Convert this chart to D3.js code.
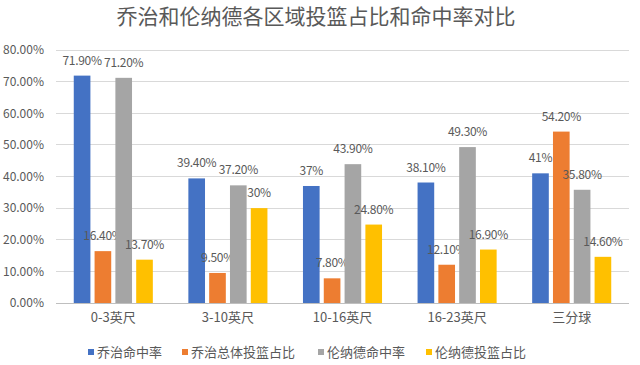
<!DOCTYPE html>
<html><head><meta charset="utf-8">
<script src="https://cdn.jsdelivr.net/npm/d3@7"></script>
<style>body{margin:0;background:#fff}svg{display:block}text{font-family:"Noto Sans CJK SC","Noto Sans",sans-serif}</style>
</head><body><svg id="c" width="640" height="365"></svg>
<script>
const title = "乔治和伦纳德各区域投篮占比和命中率对比";
const categories = ["0-3英尺","3-10英尺","10-16英尺","16-23英尺","三分球"];
const seriesNames = ["乔治命中率","乔治总体投篮占比","伦纳德命中率","伦纳德投篮占比"];
const georgeFG = [71.9, 39.4, 37, 38.1, 41];
const georgeShare = [16.4, 9.5, 7.8, 12.1, 54.2];
const leonardFG = [71.2, 37.2, 43.9, 49.3, 35.8];
const leonardShare = [13.7, 30, 24.8, 16.9, 14.6];
const yTicks = [0,10,20,30,40,50,60,70,80];
const colors = ["#4472C4","#ED7D31","#A5A5A5","#FFC000"];

const series = [georgeFG, georgeShare, leonardFG, leonardShare];
const svg = d3.select("#c");
const W = 640, H = 365;
const m = {left:56, right:11, top:50, bottom:62};
const x0 = d3.scaleBand().domain(categories).range([m.left, W-m.right]).paddingInner(0.31).paddingOuter(0.155);
const x1 = d3.scaleBand().domain(seriesNames).range([0, x0.bandwidth()]).paddingInner(0.2);
const y = d3.scaleLinear().domain([0,80]).range([H-m.bottom, m.top]);

svg.append("text").attr("x", 316).attr("y", 24).attr("text-anchor","middle")
  .attr("font-size", 21).attr("fill","#595959").text(title);

// gridlines
svg.append("g").selectAll("line").data(yTicks).join("line")
  .attr("x1", m.left).attr("x2", W-m.right)
  .attr("y1", d=>y(d)).attr("y2", d=>y(d))
  .attr("stroke", d=> d===0 ? "#bfbfbf" : "#d9d9d9").attr("stroke-width",1)
  .attr("shape-rendering","crispEdges");

// y axis labels
const yAxis = d3.axisLeft(y).tickValues(yTicks).tickFormat(d=>d.toFixed(2)+"%").tickSize(0).tickPadding(10);
const ya = svg.append("g").attr("transform",`translate(${m.left-2},0)`).call(yAxis);
ya.select(".domain").remove();
ya.selectAll("text").attr("font-size",12).attr("fill","#595959").attr("font-family",'"Noto Sans CJK SC",sans-serif');

// x axis labels
const xAxis = d3.axisBottom(x0).tickSize(0).tickPadding(10);
const xa = svg.append("g").attr("transform",`translate(0,${y(0)})`).call(xAxis);
xa.select(".domain").remove();
xa.selectAll("text").attr("font-size",13).attr("fill","#595959").attr("font-family",'"Noto Sans CJK SC",sans-serif');

const fmt = v => Number.isInteger(v) ? v+"%" : v.toFixed(2)+"%";
const g = svg.append("g");
series.forEach((vals, si) => {
  const gg = g.append("g");
  gg.selectAll("rect").data(vals).join("rect")
    .attr("x", (d,i)=>x0(categories[i])+x1(seriesNames[si]))
    .attr("width", x1.bandwidth())
    .attr("y", d=>y(d)).attr("height", d=>y(0)-y(d))
    .attr("fill", colors[si]);
  gg.selectAll("text").data(vals).join("text")
    .attr("x", (d,i)=>x0(categories[i])+x1(seriesNames[si])+x1.bandwidth()/2)
    .attr("y", d=>y(d)-11)
    .attr("text-anchor","middle").attr("font-size",12).attr("fill","#595959")
    .attr("letter-spacing",-0.3)
    .text(d=>fmt(d));
});

// legend
const legX = [88, 182, 318, 426];
const lg = svg.append("g");
seriesNames.forEach((n,i)=>{
  lg.append("rect").attr("x",legX[i]).attr("y",349).attr("width",6).attr("height",6).attr("fill",colors[i]);
  lg.append("text").attr("x",legX[i]+9).attr("y",357).attr("font-size",13).attr("fill","#595959").text(n);
});
</script></body></html>
